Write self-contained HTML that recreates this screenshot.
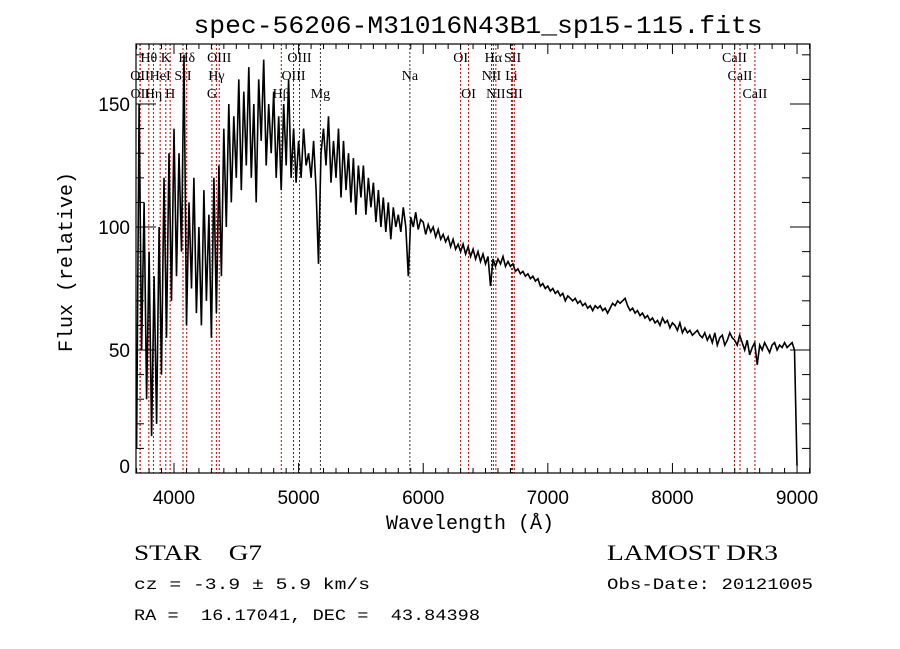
<!DOCTYPE html>
<html><head><meta charset="utf-8"><style>
body{margin:0;background:#fff;}
svg{display:block;font-family:"Liberation Serif",serif;}
</style></head><body>
<svg id="chart" width="900" height="649" viewBox="0 0 900 649" xmlns="http://www.w3.org/2000/svg">
<rect width="900" height="649" fill="#fff"/>
<text x="478" y="33" font-family="Liberation Mono, monospace" font-size="25" text-anchor="middle" textLength="569" lengthAdjust="spacingAndGlyphs">spec-56206-M31016N43B1_sp15-115.fits</text>
<g id="lines"></g>
<g id="labels"></g>
<path id="spec" fill="none" stroke="#000" stroke-width="1.6"/>
<rect x="136" y="44" width="674" height="429" fill="none" stroke="#000" stroke-width="1.2"/>
<g id="ticks"></g>
<text x="470" y="529" font-family="Liberation Mono, monospace" font-size="20" text-anchor="middle">Wavelength (Å)</text>
<text transform="translate(72,262) rotate(-90)" font-family="Liberation Mono, monospace" font-size="20" text-anchor="middle">Flux (relative)</text>
<text x="134" y="560" font-size="22" textLength="128" lengthAdjust="spacingAndGlyphs" xml:space="preserve">STAR    G7</text>
<text x="134" y="589" font-family="Liberation Mono, monospace" font-size="16" textLength="236" lengthAdjust="spacingAndGlyphs">cz = -3.9 ± 5.9 km/s</text>
<text x="134" y="620" font-family="Liberation Mono, monospace" font-size="16" textLength="346" lengthAdjust="spacingAndGlyphs" xml:space="preserve">RA =  16.17041, DEC =  43.84398</text>
<text x="607" y="560" font-size="22" textLength="171" lengthAdjust="spacingAndGlyphs">LAMOST DR3</text>
<text x="607" y="589" font-family="Liberation Mono, monospace" font-size="16" textLength="206" lengthAdjust="spacingAndGlyphs">Obs-Date: 20121005</text>
</svg>
<script>
const startWave = 3700;
const stepWave = 20;
const flux = [
10,150,50,110,30, 90,15,80,20,100, 40,120,55,130,70, 140,80,130,90,170,
60,110,75,120,65, 100,60,115,70,105, 55,120,65,125,80, 140,100,150,110,145,
120,160,115,155,125, 165,120,150,110,160, 135,168,125,150,130, 155,120,145,115,150,
125,160,120,140,118, 135,120,140,125,130, 120,135,115,85,130, 140,125,145,118,135,
120,140,112,135,115, 130,110,128,105,125, 112,125,105,120,108, 118,102,115,100,112,
98,110,95,108,100, 105,98,108,100,80, 104,100,106,99,103, 102,97,101,98,100,
96,99,95,97,94, 96,92,95,91,93, 90,93,89,92,88, 91,87,90,86,89,
85,88,76,87,84, 87,85,88,84,86, 84,85,82,83,81, 82,80,81,79,80,
78,79,76,77,75, 76,74,75,73,74, 72,73,70,72,71, 70,71,69,70,68,
69,67,68,66,68, 67,68,66,67,65, 67,69,68,70,69, 70,71,68,66,67,
65,66,64,65,63, 64,62,63,61,62, 60,63,61,62,59, 61,60,58,61,57,
59,57,58,56,57, 58,56,55,57,54, 56,53,57,52,55, 56,52,54,57,55,
54,52,56,53,50, 54,48,51,53,44, 52,50,53,51,49, 52,53,50,52,51,
53,51,52,53,50, 3];
const lineNames = ["Hθ","K","Hδ","OIII","OIII","OI","Hα","SII","CaII",
 "OII","HeI","SII","Hγ","OIII","Na","NII","Li","CaII",
 "OII","Hη","H","G","Hβ","Mg","OI","NII","SII","CaII"];
const lineWaves = [3798,3934,4102,4363,5007,6300,6563,6717,8498,
 3727,3889,4072,4340,4959,5893,6548,6708,8542,
 3729,3835,3969,4304,4861,5175,6364,6583,6731,8662];
const lineRows = [0,0,0,0,0,0,0,0,0, 1,1,1,1,1,1,1,1,1, 2,2,2,2,2,2,2,2,2,2];
const xTicks = [4000,5000,6000,7000,8000,9000];
const yTicks = [0,50,100,150];

const X0=136,X1=810,W0=3695,W1=9104,Y0=473,Y1=44,F0=0,F1=174.4;
const xs = w => X0+(w-W0)/(W1-W0)*(X1-X0);
const ys = f => Y0-(f-F0)/(F1-F0)*(Y0-Y1);
const NS="http://www.w3.org/2000/svg";
function mk(tag,attrs,parent){const e=document.createElementNS(NS,tag);for(const k in attrs)e.setAttribute(k,attrs[k]);parent.appendChild(e);return e;}

let d="";
flux.forEach((f,i)=>{const x=xs(startWave+i*stepWave),y=ys(f);d+=(i?"L":"M")+x.toFixed(1)+" "+y.toFixed(1);});
document.getElementById("spec").setAttribute("d",d);

const lg=document.getElementById("lines"), lb=document.getElementById("labels");
const blackSet=["Na","Mg"];
lineWaves.forEach((w,i)=>{
 const x=xs(w);
 const col=blackSet.includes(lineNames[i])?"#333":"#c00000";
 const ln=mk("line",{x1:x,x2:x,y1:Y1,y2:Y0,stroke:col,"stroke-width":1,"stroke-dasharray":"2,2"},lg);
 
 
 const t=mk("text",{x:x,y:62+lineRows[i]*18,"font-size":14,"text-anchor":"middle"},lb);
 t.textContent=lineNames[i];
 
 
});

const tg=document.getElementById("ticks");
for(let w=3700;w<=9100;w+=100){
 const x=xs(w),major=w%1000===0,L=major?10:5;
 mk("line",{x1:x,x2:x,y1:Y0,y2:Y0-L,stroke:"#000"},tg);
 mk("line",{x1:x,x2:x,y1:Y1,y2:Y1+L,stroke:"#000"},tg);
}
xTicks.forEach(w=>{
 const t=mk("text",{x:xs(w),y:Y0+31,"font-family":"Liberation Sans, sans-serif","font-size":19,"text-anchor":"middle"},tg);
 t.textContent=w;
 
 
});
for(let f=0;f<=170;f+=10){
 const y=ys(f),major=f%50===0,L=major?20:8;
 mk("line",{x1:X0,x2:X0+L,y1:y,y2:y,stroke:"#000"},tg);
 mk("line",{x1:X1,x2:X1-L,y1:y,y2:y,stroke:"#000"},tg);
}
yTicks.forEach(f=>{
 const t=mk("text",{x:X0-6,y:ys(f)+7-(f===0?7:0),"font-family":"Liberation Sans, sans-serif","font-size":19,"text-anchor":"end"},tg);
 t.textContent=f;
 
 
});
</script>
</body></html>
